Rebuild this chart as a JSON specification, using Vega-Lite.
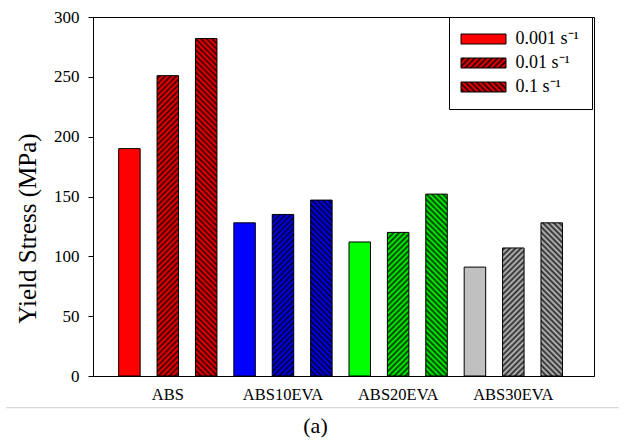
{
  "$schema": "https://vega.github.io/schema/vega-lite/v6.json",
  "width": 501,
  "height": 359,
  "autosize": {"type": "none"},
  "padding": {"left": 93, "top": 17, "right": 31, "bottom": 68},
  "background": "white",
  "config": {
    "view": {"stroke": "black", "strokeWidth": 1},
    "font": "Liberation Serif",
    "axis": {"domainColor": "black", "tickColor": "black", "labelColor": "black", "titleColor": "black", "labelFont": "Liberation Serif", "titleFont": "Liberation Serif", "titleFontWeight": "normal", "grid": false},
    "axisX": {"labelAngle": 0, "ticks": false, "labelFontSize": 16.5, "labelPadding": 10, "titleFontSize": 22, "titleX": 222, "titleY": 56, "titleBaseline": "alphabetic", "titleAlign": "center"},
    "axisY": {"tickSize": 5, "labelFontSize": 17, "labelPadding": 9, "titleFontSize": 25, "titleX": -66, "titleY": 211, "titleAngle": 270, "titleAlign": "center", "titleBaseline": "middle"}
  },
  "data": {
    "values": [
      {"group": "ABS", "rate": "0.001", "value": 190},
      {"group": "ABS", "rate": "0.01", "value": 251},
      {"group": "ABS", "rate": "0.1", "value": 282},
      {"group": "ABS10EVA", "rate": "0.001", "value": 128},
      {"group": "ABS10EVA", "rate": "0.01", "value": 135},
      {"group": "ABS10EVA", "rate": "0.1", "value": 147},
      {"group": "ABS20EVA", "rate": "0.001", "value": 112},
      {"group": "ABS20EVA", "rate": "0.01", "value": 120},
      {"group": "ABS20EVA", "rate": "0.1", "value": 152},
      {"group": "ABS30EVA", "rate": "0.001", "value": 91},
      {"group": "ABS30EVA", "rate": "0.01", "value": 107},
      {"group": "ABS30EVA", "rate": "0.1", "value": 128}
    ]
  },
  "layer": [
    {
      "layer": [
        {
          "mark": {"type": "bar"},
          "encoding": {
            "x": {"field": "group", "type": "nominal", "title": "(a)",
              "scale": {"domain": ["ABS", "ABS10EVA", "ABS20EVA", "ABS30EVA"], "paddingInner": 0, "paddingOuter": 0.175, "align": 0.427}},
            "xOffset": {"field": "rate", "type": "nominal", "scale": {"domain": ["0.001", "0.01", "0.1"], "paddingInner": 0.44, "paddingOuter": 0.22}},
            "y": {"field": "value", "type": "quantitative", "title": "Yield Stress (MPa)", "scale": {"domain": [0, 300], "nice": false}},
            "color": {"field": "group", "type": "nominal", "scale": {"domain": ["ABS", "ABS10EVA", "ABS20EVA", "ABS30EVA"], "range": ["#ff0000", "#0000ff", "#00ff00", "#c0c0c0"]}, "legend": null}
          }
        },
        {
          "transform": [{"filter": "datum.rate === '0.01'"}],
          "mark": {"type": "bar", "opacity": 0.8, "fill": {"gradient": "linear", "x1": 0, "y1": 0, "x2": 0.0656, "y2": 1.058, "stops": [
            {"offset":0,"color":"#000"},{"offset":0.0075,"color":"transparent"},{"offset":0.015,"color":"#000"},{"offset":0.0225,"color":"transparent"},{"offset":0.03,"color":"#000"},{"offset":0.0375,"color":"transparent"},{"offset":0.045,"color":"#000"},{"offset":0.0525,"color":"transparent"},{"offset":0.06,"color":"#000"},{"offset":0.0675,"color":"transparent"},{"offset":0.075,"color":"#000"},{"offset":0.0825,"color":"transparent"},{"offset":0.09,"color":"#000"},{"offset":0.0975,"color":"transparent"},{"offset":0.105,"color":"#000"},{"offset":0.1125,"color":"transparent"},{"offset":0.12,"color":"#000"},{"offset":0.1275,"color":"transparent"},{"offset":0.135,"color":"#000"},{"offset":0.1425,"color":"transparent"},{"offset":0.15,"color":"#000"},{"offset":0.1575,"color":"transparent"},{"offset":0.165,"color":"#000"},{"offset":0.1725,"color":"transparent"},{"offset":0.18,"color":"#000"},{"offset":0.1875,"color":"transparent"},{"offset":0.195,"color":"#000"},{"offset":0.2025,"color":"transparent"},{"offset":0.21,"color":"#000"},{"offset":0.2175,"color":"transparent"},{"offset":0.225,"color":"#000"},{"offset":0.2325,"color":"transparent"},{"offset":0.24,"color":"#000"},{"offset":0.2475,"color":"transparent"},{"offset":0.255,"color":"#000"},{"offset":0.2625,"color":"transparent"},{"offset":0.27,"color":"#000"},{"offset":0.2775,"color":"transparent"},{"offset":0.285,"color":"#000"},{"offset":0.2925,"color":"transparent"},{"offset":0.3,"color":"#000"},{"offset":0.3075,"color":"transparent"},{"offset":0.315,"color":"#000"},{"offset":0.3225,"color":"transparent"},{"offset":0.33,"color":"#000"},{"offset":0.3375,"color":"transparent"},{"offset":0.345,"color":"#000"},{"offset":0.3525,"color":"transparent"},{"offset":0.36,"color":"#000"},{"offset":0.3675,"color":"transparent"},{"offset":0.375,"color":"#000"},{"offset":0.3825,"color":"transparent"},{"offset":0.39,"color":"#000"},{"offset":0.3975,"color":"transparent"},{"offset":0.405,"color":"#000"},{"offset":0.4125,"color":"transparent"},{"offset":0.42,"color":"#000"},{"offset":0.4275,"color":"transparent"},{"offset":0.435,"color":"#000"},{"offset":0.4425,"color":"transparent"},{"offset":0.45,"color":"#000"},{"offset":0.4575,"color":"transparent"},{"offset":0.465,"color":"#000"},{"offset":0.4725,"color":"transparent"},{"offset":0.48,"color":"#000"},{"offset":0.4875,"color":"transparent"},{"offset":0.495,"color":"#000"},{"offset":0.5025,"color":"transparent"},{"offset":0.51,"color":"#000"},{"offset":0.5175,"color":"transparent"},{"offset":0.525,"color":"#000"},{"offset":0.5325,"color":"transparent"},{"offset":0.54,"color":"#000"},{"offset":0.5475,"color":"transparent"},{"offset":0.555,"color":"#000"},{"offset":0.5625,"color":"transparent"},{"offset":0.57,"color":"#000"},{"offset":0.5775,"color":"transparent"},{"offset":0.585,"color":"#000"},{"offset":0.5925,"color":"transparent"},{"offset":0.6,"color":"#000"},{"offset":0.6075,"color":"transparent"},{"offset":0.615,"color":"#000"},{"offset":0.6225,"color":"transparent"},{"offset":0.63,"color":"#000"},{"offset":0.6375,"color":"transparent"},{"offset":0.645,"color":"#000"},{"offset":0.6525,"color":"transparent"},{"offset":0.66,"color":"#000"},{"offset":0.6675,"color":"transparent"},{"offset":0.675,"color":"#000"},{"offset":0.6825,"color":"transparent"},{"offset":0.69,"color":"#000"},{"offset":0.6975,"color":"transparent"},{"offset":0.705,"color":"#000"},{"offset":0.7125,"color":"transparent"},{"offset":0.72,"color":"#000"},{"offset":0.7275,"color":"transparent"},{"offset":0.735,"color":"#000"},{"offset":0.7425,"color":"transparent"},{"offset":0.75,"color":"#000"},{"offset":0.7575,"color":"transparent"},{"offset":0.765,"color":"#000"},{"offset":0.7725,"color":"transparent"},{"offset":0.78,"color":"#000"},{"offset":0.7875,"color":"transparent"},{"offset":0.795,"color":"#000"},{"offset":0.8025,"color":"transparent"},{"offset":0.81,"color":"#000"},{"offset":0.8175,"color":"transparent"},{"offset":0.825,"color":"#000"},{"offset":0.8325,"color":"transparent"},{"offset":0.84,"color":"#000"},{"offset":0.8475,"color":"transparent"},{"offset":0.855,"color":"#000"},{"offset":0.8625,"color":"transparent"},{"offset":0.87,"color":"#000"},{"offset":0.8775,"color":"transparent"},{"offset":0.885,"color":"#000"},{"offset":0.8925,"color":"transparent"},{"offset":0.9,"color":"#000"},{"offset":0.9075,"color":"transparent"},{"offset":0.915,"color":"#000"},{"offset":0.9225,"color":"transparent"},{"offset":0.93,"color":"#000"},{"offset":0.9375,"color":"transparent"},{"offset":0.945,"color":"#000"},{"offset":0.9525,"color":"transparent"},{"offset":0.96,"color":"#000"},{"offset":0.9675,"color":"transparent"},{"offset":0.975,"color":"#000"},{"offset":0.9825,"color":"transparent"},{"offset":0.99,"color":"#000"},{"offset":0.9975,"color":"transparent"}
          ]}},
          "encoding": {
            "x": {"field": "group", "type": "nominal", "title": "(a)", "scale": {"domain": ["ABS", "ABS10EVA", "ABS20EVA", "ABS30EVA"], "paddingInner": 0, "paddingOuter": 0.175, "align": 0.427}},
            "xOffset": {"field": "rate", "type": "nominal", "scale": {"domain": ["0.001", "0.01", "0.1"], "paddingInner": 0.44, "paddingOuter": 0.22}},
            "y": {"datum": 290, "type": "quantitative", "title": "Yield Stress (MPa)", "scale": {"domain": [0, 300], "nice": false}},
            "y2": {"datum": 0}
          }
        },
        {
          "transform": [{"filter": "datum.rate === '0.1'"}],
          "mark": {"type": "bar", "opacity": 0.8, "fill": {"gradient": "linear", "x1": 0, "y1": 1, "x2": 0.0656, "y2": -0.058, "stops": [
            {"offset":0,"color":"#000"},{"offset":0.0075,"color":"transparent"},{"offset":0.015,"color":"#000"},{"offset":0.0225,"color":"transparent"},{"offset":0.03,"color":"#000"},{"offset":0.0375,"color":"transparent"},{"offset":0.045,"color":"#000"},{"offset":0.0525,"color":"transparent"},{"offset":0.06,"color":"#000"},{"offset":0.0675,"color":"transparent"},{"offset":0.075,"color":"#000"},{"offset":0.0825,"color":"transparent"},{"offset":0.09,"color":"#000"},{"offset":0.0975,"color":"transparent"},{"offset":0.105,"color":"#000"},{"offset":0.1125,"color":"transparent"},{"offset":0.12,"color":"#000"},{"offset":0.1275,"color":"transparent"},{"offset":0.135,"color":"#000"},{"offset":0.1425,"color":"transparent"},{"offset":0.15,"color":"#000"},{"offset":0.1575,"color":"transparent"},{"offset":0.165,"color":"#000"},{"offset":0.1725,"color":"transparent"},{"offset":0.18,"color":"#000"},{"offset":0.1875,"color":"transparent"},{"offset":0.195,"color":"#000"},{"offset":0.2025,"color":"transparent"},{"offset":0.21,"color":"#000"},{"offset":0.2175,"color":"transparent"},{"offset":0.225,"color":"#000"},{"offset":0.2325,"color":"transparent"},{"offset":0.24,"color":"#000"},{"offset":0.2475,"color":"transparent"},{"offset":0.255,"color":"#000"},{"offset":0.2625,"color":"transparent"},{"offset":0.27,"color":"#000"},{"offset":0.2775,"color":"transparent"},{"offset":0.285,"color":"#000"},{"offset":0.2925,"color":"transparent"},{"offset":0.3,"color":"#000"},{"offset":0.3075,"color":"transparent"},{"offset":0.315,"color":"#000"},{"offset":0.3225,"color":"transparent"},{"offset":0.33,"color":"#000"},{"offset":0.3375,"color":"transparent"},{"offset":0.345,"color":"#000"},{"offset":0.3525,"color":"transparent"},{"offset":0.36,"color":"#000"},{"offset":0.3675,"color":"transparent"},{"offset":0.375,"color":"#000"},{"offset":0.3825,"color":"transparent"},{"offset":0.39,"color":"#000"},{"offset":0.3975,"color":"transparent"},{"offset":0.405,"color":"#000"},{"offset":0.4125,"color":"transparent"},{"offset":0.42,"color":"#000"},{"offset":0.4275,"color":"transparent"},{"offset":0.435,"color":"#000"},{"offset":0.4425,"color":"transparent"},{"offset":0.45,"color":"#000"},{"offset":0.4575,"color":"transparent"},{"offset":0.465,"color":"#000"},{"offset":0.4725,"color":"transparent"},{"offset":0.48,"color":"#000"},{"offset":0.4875,"color":"transparent"},{"offset":0.495,"color":"#000"},{"offset":0.5025,"color":"transparent"},{"offset":0.51,"color":"#000"},{"offset":0.5175,"color":"transparent"},{"offset":0.525,"color":"#000"},{"offset":0.5325,"color":"transparent"},{"offset":0.54,"color":"#000"},{"offset":0.5475,"color":"transparent"},{"offset":0.555,"color":"#000"},{"offset":0.5625,"color":"transparent"},{"offset":0.57,"color":"#000"},{"offset":0.5775,"color":"transparent"},{"offset":0.585,"color":"#000"},{"offset":0.5925,"color":"transparent"},{"offset":0.6,"color":"#000"},{"offset":0.6075,"color":"transparent"},{"offset":0.615,"color":"#000"},{"offset":0.6225,"color":"transparent"},{"offset":0.63,"color":"#000"},{"offset":0.6375,"color":"transparent"},{"offset":0.645,"color":"#000"},{"offset":0.6525,"color":"transparent"},{"offset":0.66,"color":"#000"},{"offset":0.6675,"color":"transparent"},{"offset":0.675,"color":"#000"},{"offset":0.6825,"color":"transparent"},{"offset":0.69,"color":"#000"},{"offset":0.6975,"color":"transparent"},{"offset":0.705,"color":"#000"},{"offset":0.7125,"color":"transparent"},{"offset":0.72,"color":"#000"},{"offset":0.7275,"color":"transparent"},{"offset":0.735,"color":"#000"},{"offset":0.7425,"color":"transparent"},{"offset":0.75,"color":"#000"},{"offset":0.7575,"color":"transparent"},{"offset":0.765,"color":"#000"},{"offset":0.7725,"color":"transparent"},{"offset":0.78,"color":"#000"},{"offset":0.7875,"color":"transparent"},{"offset":0.795,"color":"#000"},{"offset":0.8025,"color":"transparent"},{"offset":0.81,"color":"#000"},{"offset":0.8175,"color":"transparent"},{"offset":0.825,"color":"#000"},{"offset":0.8325,"color":"transparent"},{"offset":0.84,"color":"#000"},{"offset":0.8475,"color":"transparent"},{"offset":0.855,"color":"#000"},{"offset":0.8625,"color":"transparent"},{"offset":0.87,"color":"#000"},{"offset":0.8775,"color":"transparent"},{"offset":0.885,"color":"#000"},{"offset":0.8925,"color":"transparent"},{"offset":0.9,"color":"#000"},{"offset":0.9075,"color":"transparent"},{"offset":0.915,"color":"#000"},{"offset":0.9225,"color":"transparent"},{"offset":0.93,"color":"#000"},{"offset":0.9375,"color":"transparent"},{"offset":0.945,"color":"#000"},{"offset":0.9525,"color":"transparent"},{"offset":0.96,"color":"#000"},{"offset":0.9675,"color":"transparent"},{"offset":0.975,"color":"#000"},{"offset":0.9825,"color":"transparent"},{"offset":0.99,"color":"#000"},{"offset":0.9975,"color":"transparent"}
          ]}},
          "encoding": {
            "x": {"field": "group", "type": "nominal", "title": "(a)", "scale": {"domain": ["ABS", "ABS10EVA", "ABS20EVA", "ABS30EVA"], "paddingInner": 0, "paddingOuter": 0.175, "align": 0.427}},
            "xOffset": {"field": "rate", "type": "nominal", "scale": {"domain": ["0.001", "0.01", "0.1"], "paddingInner": 0.44, "paddingOuter": 0.22}},
            "y": {"datum": 290, "type": "quantitative", "title": "Yield Stress (MPa)", "scale": {"domain": [0, 300], "nice": false}},
            "y2": {"datum": 0}
          }
        },
        {
          "transform": [{"filter": "datum.rate !== '0.001'"}],
          "mark": {"type": "bar", "fill": "white", "stroke": "white", "strokeWidth": 2.5, "yOffset": -1.25},
          "encoding": {
            "x": {"field": "group", "type": "nominal", "title": "(a)", "scale": {"domain": ["ABS", "ABS10EVA", "ABS20EVA", "ABS30EVA"], "paddingInner": 0, "paddingOuter": 0.175, "align": 0.427}},
            "xOffset": {"field": "rate", "type": "nominal", "scale": {"domain": ["0.001", "0.01", "0.1"], "paddingInner": 0.44, "paddingOuter": 0.22}},
            "y": {"field": "value", "type": "quantitative", "title": "Yield Stress (MPa)", "scale": {"domain": [0, 300], "nice": false}},
            "y2": {"datum": 290}
          }
        },
        {
          "mark": {"type": "bar", "fillOpacity": 0, "stroke": "black", "strokeWidth": 1, "strokeOpacity": 1},
          "encoding": {
            "x": {"field": "group", "type": "nominal", "title": "(a)", "scale": {"domain": ["ABS", "ABS10EVA", "ABS20EVA", "ABS30EVA"], "paddingInner": 0, "paddingOuter": 0.175, "align": 0.427}},
            "xOffset": {"field": "rate", "type": "nominal", "scale": {"domain": ["0.001", "0.01", "0.1"], "paddingInner": 0.44, "paddingOuter": 0.22}},
            "y": {"field": "value", "type": "quantitative", "title": "Yield Stress (MPa)", "scale": {"domain": [0, 300], "nice": false}}
          }
        },
        {
          "mark": {"type": "bar", "opacity": 0, "stroke": "black", "strokeWidth": 1},
          "encoding": {
            "x": {"field": "group", "type": "nominal", "title": "(a)", "scale": {"domain": ["ABS", "ABS10EVA", "ABS20EVA", "ABS30EVA"], "paddingInner": 0, "paddingOuter": 0.175, "align": 0.427}},
            "xOffset": {"field": "rate", "type": "nominal", "scale": {"domain": ["0.001", "0.01", "0.1"], "paddingInner": 0.44, "paddingOuter": 0.22}},
            "y": {"field": "value", "type": "quantitative", "title": "Yield Stress (MPa)", "scale": {"domain": [0, 300], "nice": false}},
            "fill": {"field": "rate", "type": "nominal",
              "scale": {"domain": ["0.001", "0.01", "0.1"], "range": [
                "#ff0000",
                {"expr": "{gradient:'linear',x1:0,y1:0,x2:1.2,y2:0.2667,stops:[{offset:0,color:'#ff0000'},{offset:0.05,color:'#200000'},{offset:0.1,color:'#ff0000'},{offset:0.15,color:'#200000'},{offset:0.2,color:'#ff0000'},{offset:0.25,color:'#200000'},{offset:0.3,color:'#ff0000'},{offset:0.35,color:'#200000'},{offset:0.4,color:'#ff0000'},{offset:0.45,color:'#200000'},{offset:0.5,color:'#ff0000'},{offset:0.55,color:'#200000'},{offset:0.6,color:'#ff0000'},{offset:0.65,color:'#200000'},{offset:0.7,color:'#ff0000'},{offset:0.75,color:'#200000'},{offset:0.8,color:'#ff0000'},{offset:0.85,color:'#200000'},{offset:0.9,color:'#ff0000'},{offset:0.95,color:'#200000'},{offset:1,color:'#ff0000'}]}"},
                {"expr": "{gradient:'linear',x1:0,y1:1,x2:1.2,y2:0.7333,stops:[{offset:0,color:'#ff0000'},{offset:0.05,color:'#200000'},{offset:0.1,color:'#ff0000'},{offset:0.15,color:'#200000'},{offset:0.2,color:'#ff0000'},{offset:0.25,color:'#200000'},{offset:0.3,color:'#ff0000'},{offset:0.35,color:'#200000'},{offset:0.4,color:'#ff0000'},{offset:0.45,color:'#200000'},{offset:0.5,color:'#ff0000'},{offset:0.55,color:'#200000'},{offset:0.6,color:'#ff0000'},{offset:0.65,color:'#200000'},{offset:0.7,color:'#ff0000'},{offset:0.75,color:'#200000'},{offset:0.8,color:'#ff0000'},{offset:0.85,color:'#200000'},{offset:0.9,color:'#ff0000'},{offset:0.95,color:'#200000'},{offset:1,color:'#ff0000'}]}"}
              ]},
              "legend": {
                "title": null, "orient": "none", "legendX": 356, "legendY": 0,
                "padding": 13, "fillColor": "white", "strokeColor": "black",
                "symbolType": "M-4.5,-1H4.5V1H-4.5Z", "symbolSize": 100, "symbolOffset": 12.5,
                "symbolOpacity": 1, "symbolStrokeColor": "black", "symbolStrokeWidth": 1,
                "labelOffset": 23, "labelFont": "Liberation Serif", "labelFontSize": 18, "labelColor": "black",
                "rowPadding": 6, "labelExpr": "datum.label + ' s⁻¹'"
              }
            }
          }
        }
      ]
    },
    {
      "data": {"values": [{"item": "separator"}]},
      "mark": {"type": "rule", "color": "#cfcfcf", "strokeWidth": 1},
      "encoding": {
        "x": {"datum": 0, "type": "quantitative", "scale": {"domain": [0.14193, 0.95923], "zero": false, "nice": false}, "axis": null},
        "x2": {"datum": 1},
        "y": {"datum": -26.5, "type": "quantitative", "title": "Yield Stress (MPa)", "scale": {"domain": [0, 300], "nice": false}}
      }
    }
  ],
  "resolve": {"scale": {"x": "independent"}}
}
